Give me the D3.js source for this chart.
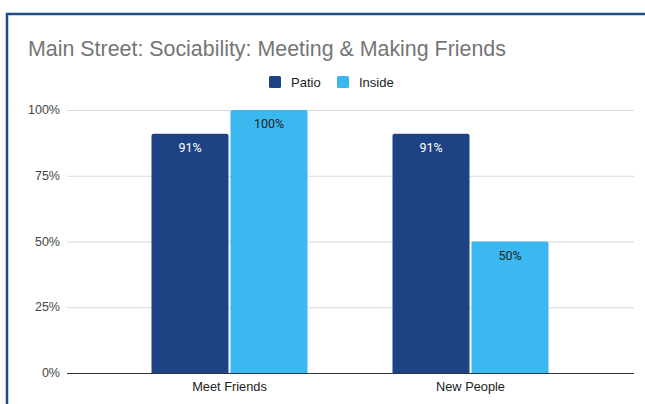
<!DOCTYPE html>
<html lang="en">
  <head>
    <meta charset="UTF-8" />
    <title>Main Street: Sociability</title>
    <style>
      body {
        margin: 0;
        background: #fff;
        font-family: "Liberation Sans", Arial, sans-serif;
      }
      svg {
        display: block;
      }
      .grid line {
        stroke: #d9d9d9;
        stroke-width: 1px;
      }
      .tick-label {
        font-size: 12.5px;
        fill: #444;
      }
    </style>
  </head>
  <body>
    <svg width="645" height="404"></svg>

    <script src="https://d3js.org/d3.v7.min.js"></script>
    <script>
      const categories = ["Meet Friends", "New People"];
      const series = ["Patio", "Inside"];
      const patio = [0.91, 0.91];
      const inside = [1.0, 0.5];
      const yTicks = [0, 0.25, 0.5, 0.75, 1];
      const colors = { Patio: "#1d4385", Inside: "#3cb8f0" };
      const labelColors = { Patio: "#fff", Inside: "#222" };

      const values = { Patio: patio, Inside: inside };

      const svg = d3.select("svg");

      // frame
      svg
        .append("path")
        .attr("d", "M7,404 V14 H645")
        .attr("fill", "none")
        .attr("stroke", "#1f4e82")
        .attr("stroke-width", 2.5);

      // title
      svg
        .append("text")
        .attr("x", 28)
        .attr("y", 56)
        .attr("font-size", "21.4px")
        .attr("fill", "#757575")
        .text("Main Street: Sociability: Meeting & Making Friends");

      // legend
      const legend = svg.append("g").attr("font-size", "13px").attr("fill", "#222");
      const legendPos = [269, 337];
      series.forEach((s, i) => {
        legend
          .append("rect")
          .attr("x", legendPos[i])
          .attr("y", 76)
          .attr("width", 12)
          .attr("height", 12)
          .attr("rx", 1.5)
          .attr("fill", colors[s]);
        legend
          .append("text")
          .attr("x", legendPos[i] + 22)
          .attr("y", 86.5)
          .text(s);
      });

      const y = d3.scaleLinear().domain([0, 1]).range([373, 110]);
      const x0 = d3.scaleBand().domain(categories).range([109, 591]);
      const groupW = 156;
      const x1 = d3.scaleBand().domain(series).range([0, groupW]).paddingInner(0.025);

      // gridlines + y labels
      const grid = svg.append("g").attr("class", "grid");
      grid
        .selectAll("line")
        .data(yTicks.filter((t) => t > 0))
        .join("line")
        .attr("x1", 67)
        .attr("x2", 634)
        .attr("y1", (d) => y(d) + 0.5)
        .attr("y2", (d) => y(d) + 0.5);

      svg
        .append("g")
        .selectAll("text")
        .data(yTicks)
        .join("text")
        .attr("class", "tick-label")
        .attr("x", 60)
        .attr("y", (d) => y(d) + 4)
        .attr("text-anchor", "end")
        .text((d) => d3.format(".0%")(d));

      // bars
      const groups = svg
        .append("g")
        .selectAll("g")
        .data(categories)
        .join("g")
        .attr("transform", (c) => `translate(${x0(c) + (x0.bandwidth() - groupW) / 2},0)`);

      groups.each(function (c, ci) {
        const g = d3.select(this);
        series.forEach((s) => {
          const v = values[s][ci];
          g.append("path")
            .attr("fill", colors[s])
            .attr("d", () => {
              const x = x1(s), w = x1.bandwidth(), top = y(v), b = y(0), r = 2;
              return `M${x},${b} V${top + r} Q${x},${top} ${x + r},${top} H${x + w - r} Q${x + w},${top} ${x + w},${top + r} V${b} Z`;
            });
          g.append("text")
            .attr("x", x1(s) + x1.bandwidth() / 2)
            .attr("y", y(v) + 18)
            .attr("text-anchor", "middle")
            .attr("font-size", "12.5px")
            .attr("font-family", "Roboto, sans-serif")
            .attr("fill", labelColors[s])
            .text(d3.format(".0%")(v));
        });
      });

      // baseline
      svg
        .append("line")
        .attr("x1", 67)
        .attr("x2", 634)
        .attr("y1", y(0) + 0.5)
        .attr("y2", y(0) + 0.5)
        .attr("stroke", "#333")
        .attr("stroke-width", 1);

      // x labels
      svg
        .append("g")
        .selectAll("text")
        .data(categories)
        .join("text")
        .attr("x", (c) => x0(c) + x0.bandwidth() / 2)
        .attr("y", 391)
        .attr("text-anchor", "middle")
        .attr("font-size", "12.8px")
        .attr("fill", "#222")
        .text((c) => c);
    </script>
  </body>
</html>
